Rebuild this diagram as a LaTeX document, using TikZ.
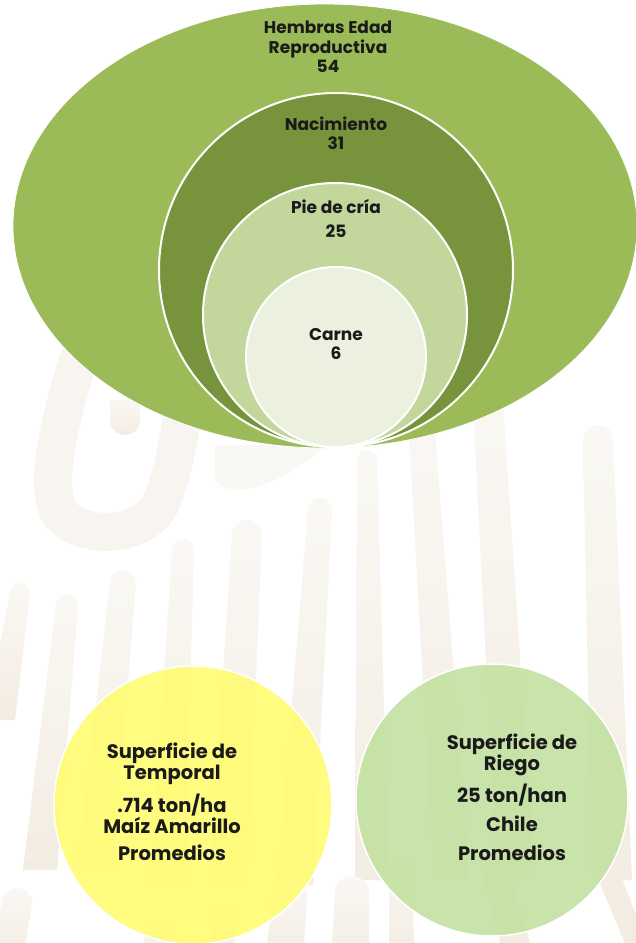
\documentclass[tikz,border=0pt]{standalone}
\usepackage{fontspec}
\setmainfont{Poppins}
\definecolor{outerG}{HTML}{9BBB59}
\definecolor{midG}{HTML}{77933C}
\definecolor{lightG}{HTML}{C3D69B}
\definecolor{paleG}{HTML}{EBF1DE}
\definecolor{yel}{HTML}{FFFC6E}
\definecolor{riego}{HTML}{C0E09C}
\definecolor{wmtop}{HTML}{FAF8F4}
\definecolor{wmbot}{HTML}{F3ECE2}
\definecolor{wmmid}{HTML}{F8F5F0}
\definecolor{txt}{HTML}{1A1A1A}
\tikzset{
  ring/.style={draw=white, line width=2pt},
  lbl/.style={font=\fontsize{17}{19.5}\selectfont\bfseries, text=txt, align=center, inner sep=0pt},
  blbl/.style={font=\fontsize{19.5}{21}\selectfont\bfseries, text=txt, align=center, inner sep=0pt},
  wmsh/.style={top color=wmtop, bottom color=wmbot, draw=none},
  wmline/.style={draw=wmmid, line width=38pt, line cap=round},
}
% tapered watermark stroke: top x, top y, top width, bottom x, bottom y, bottom width
\newcommand\wmstroke[6]{\shade[wmsh] (#1-#3/2,#2) arc[start angle=180,end angle=360,radius=#3/2] -- (#4+#6/2,#5) -- (#4-#6/2,#5) -- cycle;}
\begin{document}
\begin{tikzpicture}[x=1pt,y=-1pt]
\useasboundingbox (0,0) rectangle (636,943);
\fill[white] (0,0) rectangle (636,943);
% ---- watermark (faint background pattern)
\wmstroke{20}{593}{20}{0}{720}{30}
\wmstroke{67}{605}{22}{40}{870}{34}
\wmstroke{123}{583}{26}{95}{870}{36}
\wmstroke{183}{550}{22}{168}{880}{34}
\wmstroke{247}{535}{30}{228}{885}{38}
\wmstroke{320}{510}{24}{295}{885}{36}
\wmstroke{367}{460}{20}{372}{880}{34}
\wmstroke{422}{432}{26}{452}{880}{36}
\wmstroke{488}{404}{30}{516}{880}{38}
\wmstroke{598}{440}{30}{612}{880}{40}
\draw[wmline] (78,360) .. controls (60,420) and (45,480) .. (58,510) .. controls (75,540) and (140,540) .. (160,505) .. controls (175,470) and (180,430) .. (185,400);
\shade[wmsh] (110,400) -- (110,420) arc[start angle=180,end angle=0,radius=15] -- (140,400) -- cycle;
\fill[wmtop] (215,445) -- (215,475) .. controls (215,490) and (235,491) .. (250,489) .. controls (280,480) and (305,465) .. (327,445) -- cycle;
\wmstroke{17}{903}{30}{5}{960}{36}
\wmstroke{160}{935}{30}{158}{960}{32}
\wmstroke{225}{915}{22}{220}{960}{26}
\wmstroke{290}{895}{34}{284}{960}{38}
\wmstroke{352}{893}{34}{350}{960}{38}
\wmstroke{400}{867}{22}{402}{960}{26}
\fill[wmbot] (480,860) -- (505,860) -- (530,943) -- (500,943) -- cycle;
\fill[wmbot] (590,860) -- (615,860) -- (636,915) -- (636,943) -- (625,943) -- cycle;
% ---- top diagram
\fill[outerG] (325,226) ellipse [x radius=312, y radius=222];
\draw[draw=white, line width=0.8pt] (325,226) ellipse [x radius=312, y radius=222];
\filldraw[ring, fill=midG] (336,270) circle [radius=177];
\filldraw[ring, fill=lightG] (335,315) circle [radius=132];
\filldraw[ring, fill=paleG] (336,357) circle [radius=90];
\node[lbl] (hembras) at (328,47) {Hembras Edad\\Reproductiva\\54};
\node[lbl] (nac) at (336,133) {Nacimiento\\31};
\node[lbl] (pie) at (336,207) {Pie de cría};
\node[lbl] (pie25) at (336,231) {25};
\node[lbl] (carne) at (336,344) {Carne\\6};
% ---- bottom circles
\filldraw[draw=white, line width=1.5pt, fill=yel, fill opacity=0.88] (193,805) circle [radius=139];
\filldraw[draw=white, line width=1.5pt, fill=riego, fill opacity=0.85] (492,800) circle [radius=136];
\node[blbl] (temp) at (172,764) {Superficie de\\Temporal};
\node[blbl] (maiz) at (172,814) {.714 ton/ha\\Maíz Amarillo};
\node[blbl] (promA) at (172,853) {Promedios};
\node[blbl] (riegoT) at (512,755) {Superficie de\\Riego};
\node[blbl] (ton) at (512,795) {25 ton/han};
\node[blbl] (chile) at (512,824) {Chile};
\node[blbl] (promB) at (512,853) {Promedios};
\end{tikzpicture}
\end{document}
